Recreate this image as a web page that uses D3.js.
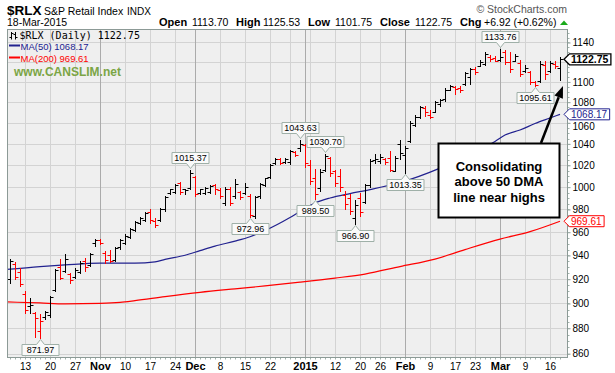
<!DOCTYPE html>
<html>
<head>
<meta charset="utf-8">
<title>$RLX daily</title>
<script src="https://cdn.jsdelivr.net/npm/d3@7"></script>
<style>
  body { margin: 0; background: #fff; }
  svg { display: block; font-family: "Liberation Sans", Arial, sans-serif; }
  .axis path.domain { display: none; }
  .axis line { stroke: #8c9a96; }
  .axis text { fill: #000; }
</style>
</head>
<body>
<svg id="chart" width="615" height="373"></svg>
<script>
// values, $RLX daily bars 8 Oct 2014 - 18 Mar 2015
var holidays = ["2014-11-27", "2014-12-25", "2015-01-01", "2015-01-19", "2015-02-16"];

var opens = [920,933,926,908,898,892,878,889,891,911, 930,927,924,922,926,935,932,951,953,942,
  940,936,947,951,956,962,968,971,978,970, 971,980,995,996,1004,998,999,1009,995,995,
  996,1002,997,986,998,992,996,995,992,974, 992,1002,1009,1022,1026,1023,1023,1032,1036,1039,
  1020,1008,999,1016,1027,1015,1010,993,990,972, 990,987,1002,1025,1024,1026,1027,1015,1040,1030,
  1043,1058,1066,1074,1068,1070,1078,1083,1092,1095, 1094,1098,1105,1113,1116,1118,1125,1124,1122,1130,
  1120,1121,1119,1111,1110,1100,1101,1117,1111,1118, 1113.70];
var highs = [937.3,934.7,929,910.5,904.7,893.4,891.7,894.2,906.4,928.9, 937.3,941.5,925.5,929.7,935.6,938.1,942.4,954.4,954.4,944.1,
  945,947.6,954.4,958.7,963.9,970.1,973.7,978.1,980.8,972.8, 981.7,992.4,998.7,1003.2,1005.1,998.7,1015.37,1010.5,998.7,1000.5,
  1002.3,1003.2,999.6,1000.5,1000.5,1007.8,996.9,1004.2,994.2,992.4, 1004.2,1008.7,1021.6,1027.1,1027.1,1027.1,1034.6,1033.7,1043.63,1040,
  1025.3,1016.9,1016.9,1030.7,1028.1,1016,1017,996.9,994.2,988, 995.1,1003.2,1026.2,1030.8,1030.8,1027.1,1033.7,1029,1044,1038.4,
  1062.2,1067.9,1076.7,1076.7,1071.9,1081.6,1083.6,1093.5,1097.4,1096.4, 1096.4,1110.4,1114.4,1115.4,1121.6,1129.8,1126.7,1125.7,1133.76,1131.8,
  1129.8,1127.7,1121.6,1116.5,1111.4,1101.4,1120.6,1120.6,1120.6,1120.6, 1125.53];
var lows = [916.7,920.5,914,892.6,892.6,873,871.97,887.7,889.3,910.5, 920.5,926.4,917.1,921.3,925.5,927.2,931.2,948.4,950.1,933.9,
  934.7,935.6,945.8,950.1,955.3,961.4,967.5,970.1,968.4,964.9, 970.1,979,994.2,995.1,994.2,994.2,998,992.4,994.2,994.2,
  995.1,994.2,990.6,984.4,984.4,990.6,989.7,994.2,972.96,972.8, 990.6,1001.4,1008.7,1021.6,1021.6,1022.5,1021.6,1029,1033.7,1018,
  1003.2,989.5,996.9,1015.1,1010.5,1001,996.9,980.8,976.3,966.9, 974.6,985.3,1000.5,1022.5,1022.5,1021.6,1015.1,1014.5,1026,1013.35,
  1042.2,1057.4,1065.1,1067,1064.2,1070,1076.7,1081.6,1091.5,1088.5, 1090.5,1097.4,1098.4,1108.4,1115.5,1116.5,1120.6,1120.6,1120.6,1118.5,
  1110.4,1120.6,1106.4,1110.4,1098.4,1095.61,1100.4,1103.4,1110.4,1113.5, 1101.75];
var closes = [935,922,916,895,899,888,886,893,905,928, 921,937,919,928,934,930,941,953,951,936,
  935,946,953,957,963,969,972,977,971,966, 980,991,998,1002,996,997,1013,994,998,999,
  1001,998,992,998,986,1003,991,1000,975,991, 1003,1008,1020,1026,1022,1026,1033,1030,1040,1022,
  1006,994,1014,1029,1013,1004,1000,985,979,984, 978,1002,1024,1026,1028,1023,1016,1027,1031,1036,
  1060,1066,1075,1070,1066,1080,1082,1092,1096,1093, 1092,1109,1113,1110,1120,1128,1123,1121,1125,1120,
  1113,1126,1108,1114,1100,1097,1118,1108,1119,1115.83, 1122.75];

var ma50Dates = ["2014-10-07","2014-10-16","2014-10-23","2014-11-03","2014-11-12","2014-11-18","2014-11-20",
  "2014-11-26","2014-12-02","2014-12-05","2014-12-11","2014-12-16","2014-12-19","2014-12-29","2014-12-31",
  "2015-01-06","2015-01-09","2015-01-15","2015-01-22","2015-01-30","2015-02-11","2015-02-19","2015-02-27",
  "2015-03-03","2015-03-06","2015-03-11","2015-03-16","2015-03-18"];
var ma50Values = [928.0,930.6,932.0,933.5,933.5,934.5,936.6, 940.2,944.1,948.0,952.3,956.1,961.4,972.8,978.1,
  985.7,990.2,994.2,997.8,1004.2,1017.4,1028.1,1042.2, 1048.3,1053.1,1059.3,1064.6,1068.17];

var ma200Dates = ["2014-10-07","2014-10-16","2014-10-23","2014-11-03","2014-11-07","2014-11-12","2014-11-20",
  "2014-12-02","2014-12-11","2014-12-19","2014-12-31","2015-01-12","2015-01-21","2015-01-30","2015-02-10",
  "2015-02-19","2015-03-02","2015-03-10","2015-03-18"];
var ma200Values = [901.3,900.4,899.7,900.1,900.9,902.3,905.6, 909.1,912.0,914.4,917.5,920.9,924.3,930.6,936.9,
  945.0,954.0,960.5,969.61];

var yTicks = [860,880,900,920,940,960,980,1000,1020,1040,1060,1080,1100,1120,1140];
var xTickDates = ["2014-10-13","2014-10-20","2014-10-27","2014-11-03","2014-11-10","2014-11-17","2014-11-24",
  "2014-12-01","2014-12-08","2014-12-15","2014-12-22","2015-01-02","2015-01-12","2015-01-20","2015-01-26",
  "2015-02-02","2015-02-09","2015-02-17","2015-02-23","2015-03-02","2015-03-09","2015-03-16"];
var xTickLabels = ["13","20","27","Nov","10","17","24","Dec","8","15","22","2015","12","20","26","Feb","9","17","23","Mar","9","16"];

var noteDates = ["2014-10-16","2014-11-28","2014-12-16","2014-12-31","2015-01-06","2015-01-08","2015-01-16","2015-02-02","2015-03-02","2015-03-11"];
var noteValues = [871.97,1015.37,972.96,1043.63,989.50,1030.70,966.90,1013.35,1133.76,1095.61];
var noteSides = ["low","high","low","high","low","high","low","low","high","low"];

// ---- trading calendar (first day is only there so the MAs run to the left edge)
var parse = d3.utcParse("%Y-%m-%d"), fmt = d3.utcFormat("%Y-%m-%d");
var days = d3.utcDay.range(parse("2014-10-07"), parse("2015-03-19")).filter(function(d) {
  var w = d.getUTCDay();
  return w > 0 && w < 6 && holidays.indexOf(fmt(d)) < 0;
}).map(fmt);
var dayIndex = {};
days.forEach(function(d, i) { dayIndex[d] = i; });

var svg = d3.select("#chart");
var P = {left: 7.5, right: 567.5, top: 29.5, bottom: 357.5};

var x = d3.scaleLinear().domain([0.5, days.length + 0.5]).range([P.left, P.right]);
var y = d3.scaleLog().domain([857, 1153.5]).range([P.bottom, P.top]);
function px(v) { return Math.round(v) + 0.5; }

svg.append("defs").append("clipPath").attr("id", "clip")
  .append("rect").attr("x", P.left).attr("y", P.top).attr("width", P.right - P.left).attr("height", P.bottom - P.top);

svg.append("rect").attr("x", P.left).attr("y", P.top).attr("width", P.right - P.left).attr("height", P.bottom - P.top)
  .attr("fill", "#efefef");

// grid
var grid = svg.append("g").attr("clip-path", "url(#clip)");
grid.selectAll("line.h").data(yTicks).enter().append("line")
  .attr("x1", P.left).attr("x2", P.right)
  .attr("y1", function(d) { return px(y(d)); }).attr("y2", function(d) { return px(y(d)); })
  .attr("stroke", "#d3d3d3");

var vlines = [];
days.forEach(function(d, i) {
  if (i === 0) return;
  var a = parse(days[i - 1]), b = parse(d);
  var month = a.getUTCMonth() !== b.getUTCMonth();
  var week = +d3.utcMonday.floor(a) !== +d3.utcMonday.floor(b);
  if (month || week) vlines.push({k: i, month: month});
});
grid.selectAll("line.v").data(vlines).enter().append("line")
  .attr("y1", P.top).attr("y2", P.bottom)
  .attr("x1", function(d) { return px(x(d.k)); }).attr("x2", function(d) { return px(x(d.k)); })
  .attr("stroke", function(d) { return d.month ? "#ababab" : "#d3d3d3"; });

// moving averages
var maLine = d3.line()
  .x(function(d) { return x(dayIndex[d[0]]); })
  .y(function(d) { return y(d[1]); })
  .curve(d3.curveMonotoneX);
var plotG = svg.append("g").attr("clip-path", "url(#clip)");
plotG.append("path").datum(d3.zip(ma200Dates, ma200Values)).attr("d", maLine)
  .attr("fill", "none").attr("stroke", "#ff0000").attr("stroke-width", 1.2);
plotG.append("path").datum(d3.zip(ma50Dates, ma50Values)).attr("d", maLine)
  .attr("fill", "none").attr("stroke", "#22228f").attr("stroke-width", 1.2);

// OHLC bars
var bars = opens.map(function(o, i) {
  return {k: i + 1, o: o, h: highs[i], l: lows[i], c: closes[i],
          up: i === 0 ? closes[i] >= o : closes[i] >= closes[i - 1]};
});
plotG.selectAll("path.bar").data(bars).enter().append("path")
  .attr("d", function(d) {
    var bx = px(x(d.k)), yh = Math.round(y(d.h)), yl = Math.round(y(d.l)) + 1;
    var yo = px(y(d.o)), yc = px(y(d.c));
    return "M" + bx + "," + yh + "V" + yl + "M" + (bx - 3) + "," + yo + "H" + bx +
           "M" + bx + "," + yc + "H" + (bx + 3);
  })
  .attr("fill", "none").attr("stroke-width", 1)
  .attr("stroke", function(d) { return d.up ? "#000" : "#ff0000"; });

// high / low call-outs
var f2 = d3.format(".2f");
var notes = svg.append("g");
noteDates.forEach(function(d, i) {
  var cx = px(x(dayIndex[d])), v = noteValues[i], w = 37, h = 11;
  var g = notes.append("g");
  var x0 = cx - w / 2, x1 = cx + w / 2, top, bot, path;
  if (noteSides[i] === "high") {
    bot = Math.round(y(v)) - 6.5; top = bot - h;
    path = "M" + x0 + "," + top + "H" + x1 + "V" + bot + "H" + (cx + 4) + "L" + cx + "," + (bot + 5) +
           "L" + (cx - 4) + "," + bot + "H" + x0 + "Z";
  } else {
    top = Math.round(y(v)) + 6.5; bot = top + h;
    path = "M" + x0 + "," + top + "H" + (cx - 4) + "L" + cx + "," + (top - 5) + "L" + (cx + 4) + "," + top +
           "H" + x1 + "V" + bot + "H" + x0 + "Z";
  }
  g.append("path").attr("d", path).attr("fill", "#fafafa").attr("stroke", "#9fb0a8");
  g.append("text").attr("x", cx).attr("y", (top + bot) / 2).attr("dy", "0.35em")
    .attr("text-anchor", "middle").attr("font-size", 9).text(f2(v));
});

// last values shown in boxes on the right axis
var last = closes.length - 1;
var lastBoxes = [[closes[last], "#000", "bold"], [ma50Values[ma50Values.length - 1], "#22228f", "normal"],
                 [ma200Values[ma200Values.length - 1], "#ff0000", "normal"]];

// axes
var yAxis = svg.append("g").attr("class", "axis").attr("transform", "translate(" + P.right + ",0)")
  .call(d3.axisRight(y).tickValues(yTicks).tickFormat(d3.format("d")).tickSize(3).tickPadding(2));
yAxis.selectAll("text").attr("font-size", 10).attr("font-family", "Liberation Sans, Arial, sans-serif");
// a tick label under a value box is covered by it; one just next to it is pushed clear
yAxis.selectAll(".tick text").each(function(t) {
  var yt = y(t), shift = 0, hide = false;
  lastBoxes.forEach(function(b) {
    var gap = yt - y(b[0]);
    if (Math.abs(gap) < 6) hide = true;
    else if (Math.abs(gap) < 11.5) shift = (gap > 0 ? 11.5 : -11.5) - gap;
  });
  if (hide) d3.select(this).attr("display", "none");
  else if (shift) d3.select(this).attr("transform", "translate(0," + shift + ")");
});

var xAxis = svg.append("g").attr("class", "axis").attr("transform", "translate(0," + P.bottom + ")")
  .call(d3.axisBottom(x).tickValues(xTickDates.map(function(d) { return dayIndex[d]; }))
    .tickFormat(function(k, i) { return xTickLabels[i]; }).tickSize(0).tickPadding(5));
xAxis.selectAll("text")
  .attr("font-family", "Liberation Sans, Arial, sans-serif")
  .attr("font-size", function(d, i) { return isNaN(+xTickLabels[i]) || xTickLabels[i] === "2015" ? 11 : 10; })
  .attr("font-weight", function(d, i) { return isNaN(+xTickLabels[i]) || xTickLabels[i] === "2015" ? "bold" : "normal"; });

// small ticks along bottom (each session) and right edge
svg.append("g").selectAll("line").data(days.slice(1)).enter().append("line")
  .attr("x1", function(d) { return px(x(dayIndex[d])); }).attr("x2", function(d) { return px(x(dayIndex[d])); })
  .attr("y1", P.bottom).attr("y2", P.bottom + 2).attr("stroke", "#9fb0a8");
svg.append("g").selectAll("line").data(d3.range(860, 1151, 5)).enter().append("line")
  .attr("x1", P.right).attr("x2", P.right + 2)
  .attr("y1", function(d) { return px(y(d)); }).attr("y2", function(d) { return px(y(d)); })
  .attr("stroke", "#9fb0a8");

// frame
svg.append("rect").attr("x", P.left).attr("y", P.top).attr("width", P.right - P.left).attr("height", P.bottom - P.top)
  .attr("fill", "none").attr("stroke", "#8c9a96");

lastBoxes.forEach(function(b) {
  var cy = y(b[0]);
  var g = svg.append("g");
  var path = g.append("path");
  var t = g.append("text").attr("x", 571).attr("y", cy).attr("dy", "0.35em")
    .attr("font-size", b[2] === "bold" ? 10.5 : 10).attr("font-weight", b[2]).attr("fill", b[1]).text(f2(b[0]));
  var w = t.node().getComputedTextLength() + 4;
  path.attr("d", "M564," + cy + "L569.5," + (cy - 5.5) + "H" + (569.5 + w) + "V" + (cy + 5.5) + "H569.5Z")
    .attr("fill", "#fff").attr("stroke", b[1]).attr("stroke-width", b[2] === "bold" ? 1.3 : 1);
});

// header
svg.append("text").attr("x", 7).attr("y", 14.5).attr("font-size", 13.5).attr("font-weight", "bold").text("$RLX");
svg.append("text").attr("x", 44).attr("y", 14.5).attr("font-size", 10.5).text("S&P Retail Index");
svg.append("text").attr("x", 127).attr("y", 14.5).attr("font-size", 10).text("INDX");
svg.append("text").attr("x", 567).attr("y", 13).attr("text-anchor", "end").attr("font-size", 10.5)
  .attr("fill", "#555").text("\u00a9 StockCharts.com");
svg.append("text").attr("x", 7).attr("y", 26).attr("font-size", 10.5).text("18-Mar-2015");

var head = [["Open", 159, true], ["1113.70", 192], ["High", 236, true], ["1125.53", 263],
            ["Low", 308, true], ["1101.75", 335], ["Close", 380, true], ["1122.75", 415],
            ["Chg", 460, true], ["+6.92 (+0.62%)", 484]];
head.forEach(function(h) {
  svg.append("text").attr("x", h[1]).attr("y", 26).attr("font-size", h[2] ? 11 : 10.5)
    .attr("font-weight", h[2] ? "bold" : "normal").text(h[0]);
});
svg.append("path").attr("d", "M560,25H568L564,20.5Z").attr("fill", "#1aaa1a");

// legend inside the plot
svg.append("path").attr("d", "M11.5,32V39.5M9.5,37.5H11.5M11.5,33.5H13.5M15.5,32V39.5M13.5,34.5H15.5M15.5,37.5H17.5")
  .attr("stroke", "#000").attr("fill", "none");
svg.append("text").attr("x", 19.5).attr("y", 39).attr("font-family", "DejaVu Sans Mono, monospace")
  .attr("font-size", 10).text("$RLX (Daily) 1122.75");
svg.append("line").attr("x1", 9).attr("x2", 20).attr("y1", 45.5).attr("y2", 45.5).attr("stroke", "#22228f").attr("stroke-width", 2);
svg.append("text").attr("x", 20.5).attr("y", 49.5).attr("font-size", 9.5).attr("fill", "#22228f").text("MA(50) 1068.17");
svg.append("line").attr("x1", 9).attr("x2", 20).attr("y1", 57.5).attr("y2", 57.5).attr("stroke", "#ff0000").attr("stroke-width", 2);
svg.append("text").attr("x", 20.5).attr("y", 61.5).attr("font-size", 9.5).attr("fill", "#ff0000").text("MA(200) 969.61");
svg.append("text").attr("x", 14).attr("y", 76).attr("font-size", 12).attr("font-weight", "bold")
  .attr("fill", "#7ba545").text("www.CANSLIM.net");

// comment box and arrow
svg.append("rect").attr("x", 438.5).attr("y", 143.5).attr("width", 121).attr("height", 74)
  .attr("fill", "#fff").attr("stroke", "#000").attr("stroke-width", 2);
["Consolidating", "above 50 DMA", "line near highs"].forEach(function(s, i) {
  svg.append("text").attr("x", 499).attr("y", 170.7 + i * 15.5).attr("text-anchor", "middle")
    .attr("font-size", 13).attr("font-weight", "bold").text(s);
});
var a0 = [541, 143], tip = [563, 86];
var dx = tip[0] - a0[0], dy = tip[1] - a0[1], len = Math.sqrt(dx * dx + dy * dy);
var ux = dx / len, uy = dy / len, bx = tip[0] - 12 * ux, by = tip[1] - 12 * uy;
svg.append("line").attr("x1", a0[0]).attr("y1", a0[1]).attr("x2", bx).attr("y2", by)
  .attr("stroke", "#000").attr("stroke-width", 2.5);
svg.append("path").attr("d", "M" + tip[0] + "," + tip[1] + "L" + (bx - 4.5 * uy) + "," + (by + 4.5 * ux) +
  "L" + (bx + 4.5 * uy) + "," + (by - 4.5 * ux) + "Z").attr("fill", "#000");
</script>
</body>
</html>
